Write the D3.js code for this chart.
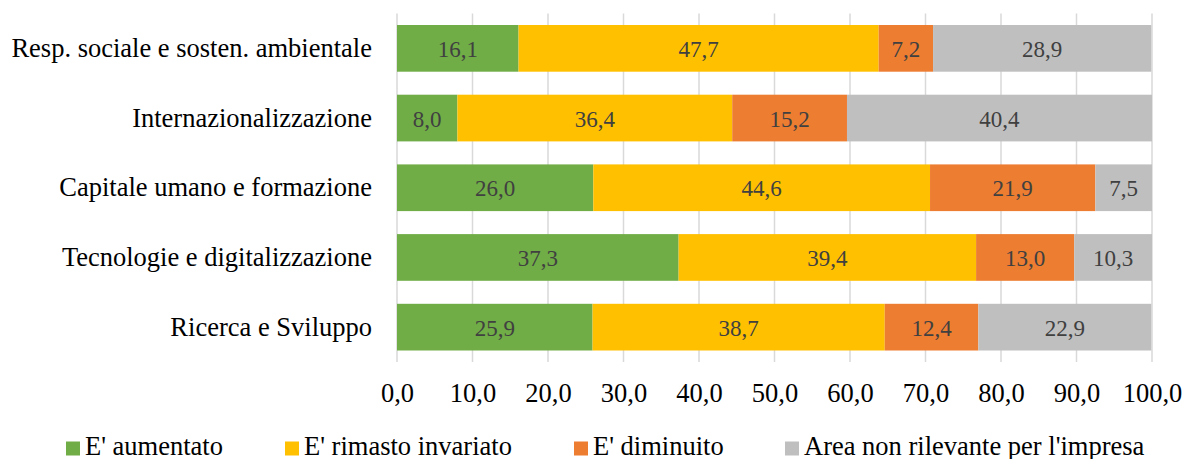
<!DOCTYPE html>
<html>
<head>
<meta charset="utf-8">
<script src="https://cdn.jsdelivr.net/npm/d3@7"></script>
<style>
  html, body { margin: 0; padding: 0; background: #fff; }
  svg, svg text { font-family: 'Liberation Serif', 'Times New Roman', serif !important; }
</style>
</head>
<body>
<svg id="chart" width="1185" height="459"></svg>
<script>
// Categories, top to bottom
const categories = [
  "Resp. sociale e sosten. ambientale",
  "Internazionalizzazione",
  "Capitale umano e formazione",
  "Tecnologie e digitalizzazione",
  "Ricerca e Sviluppo"
];

const seriesNames = [
  "E' aumentato",
  "E' rimasto invariato",
  "E' diminuito",
  "Area non rilevante per l'impresa"
];

// Percent values per series, in category order
const aumentato    = [16.1,  8.0, 26.0, 37.3, 25.9];
const invariato    = [47.7, 36.4, 44.6, 39.4, 38.7];
const diminuito    = [ 7.2, 15.2, 21.9, 13.0, 12.4];
const nonRilevante = [28.9, 40.4,  7.5, 10.3, 22.9];

const xTicks = [0, 10, 20, 30, 40, 50, 60, 70, 80, 90, 100];

const colors = ["#70AD47", "#FFC000", "#ED7D31", "#BFBFBF"];

const seriesValues = [aumentato, invariato, diminuito, nonRilevante];
const keys = ["s0", "s1", "s2", "s3"];
const rows = categories.map((c, i) => {
  const r = { category: c };
  keys.forEach((k, j) => { r[k] = seriesValues[j][i]; });
  return r;
});

const svg = d3.select("#chart");
const margin = { left: 397, right: 33, top: 13.5, bottom: 97 };
const W = 1185, H = 459;
const labelSize = "26.5px";

const x = d3.scaleLinear().domain([0, 100]).range([margin.left, W - margin.right]);
const y = d3.scaleBand().domain(categories)
  .range([margin.top, H - margin.bottom])
  .paddingInner(0.33).paddingOuter(0.165);

const fmt = v => d3.format(".1f")(v).replace(".", ",");

// Vertical gridlines
svg.append("g")
  .selectAll("line")
  .data(xTicks)
  .join("line")
  .attr("x1", d => x(d)).attr("x2", d => x(d))
  .attr("y1", margin.top).attr("y2", H - margin.bottom)
  .attr("stroke", "#D9D9D9")
  .attr("stroke-width", 1.5);

// Stacked bars
const stack = d3.stack().keys(keys)(rows);
const layers = svg.append("g").selectAll("g")
  .data(stack)
  .join("g")
  .attr("fill", (d, i) => colors[i]);

layers.selectAll("rect")
  .data(d => d)
  .join("rect")
  .attr("x", d => x(d[0]))
  .attr("width", d => x(d[1]) - x(d[0]))
  .attr("y", d => y(d.data.category))
  .attr("height", y.bandwidth());

// Value labels centred in each segment
layers.selectAll("text")
  .data(d => d)
  .join("text")
  .attr("x", d => (x(d[0]) + x(d[1])) / 2)
  .attr("y", d => y(d.data.category) + y.bandwidth() / 2)
  .attr("dy", "0.38em")
  .attr("text-anchor", "middle")
  .attr("fill", "#404040")
  .style("font-size", "23px")
  .text(d => fmt(d[1] - d[0]));

// X axis (labels only)
const xAxis = svg.append("g")
  .attr("transform", `translate(0,${H - margin.bottom})`)
  .call(d3.axisBottom(x).tickValues(xTicks).tickFormat(fmt).tickSize(0).tickPadding(21));
xAxis.select(".domain").remove();
xAxis.selectAll("text")
  .style("font-size", labelSize)
  .attr("fill", "#000");

// Y axis (category labels)
const yAxis = svg.append("g")
  .attr("transform", `translate(${margin.left},0)`)
  .call(d3.axisLeft(y).tickSize(0).tickPadding(25));
yAxis.select(".domain").remove();
yAxis.selectAll("text")
  .style("font-size", labelSize)
  .attr("fill", "#000");

// Legend
const legendX = [66, 285, 574, 785];
const legend = svg.append("g").selectAll("g")
  .data(seriesNames)
  .join("g")
  .attr("transform", (d, i) => `translate(${legendX[i]},441.5)`);
legend.append("rect")
  .attr("width", 14).attr("height", 14)
  .attr("fill", (d, i) => colors[i]);
legend.append("text")
  .attr("x", 19).attr("y", 13.5)
  .style("font-size", labelSize)
  .attr("fill", "#000")
  .text(d => d);
</script>
</body>
</html>
